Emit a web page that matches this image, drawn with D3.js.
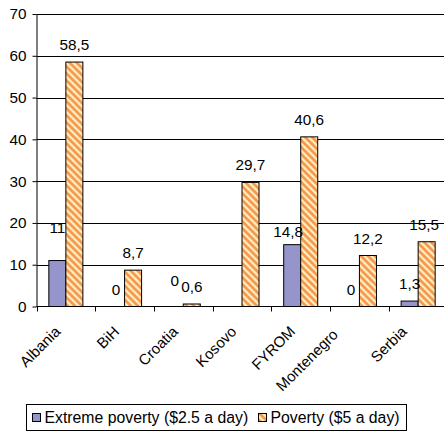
<!DOCTYPE html>
<html>
<head>
<meta charset="utf-8">
<script src="https://cdn.jsdelivr.net/npm/d3@7"></script>
<style>
  html, body { margin: 0; padding: 0; background: #fff; }
  svg { display: block; }
  svg text { font-family: "Liberation Sans", Arial, sans-serif; fill: #000; }
</style>
</head>
<body>
<svg id="chart" width="444" height="432"></svg>
<script>
// Poverty rates by country, two series
const categories = ["Albania", "BiH", "Croatia", "Kosovo", "FYROM", "Montenegro", "Serbia"];
const extremePoverty = [11, 0, 0, null, 14.8, 0, 1.3];
const poverty = [58.5, 8.7, 0.6, 29.7, 40.6, 12.2, 15.5];
const seriesNames = ["Extreme poverty ($2.5 a day)", "Poverty ($5 a day)"];
const yTicks = [0, 10, 20, 30, 40, 50, 60, 70];

const svg = d3.select("#chart");
const plot = { left: 36.5, right: 447.5, top: 14, bottom: 306.5 };
const fontSize = 15.3;

const x = d3.scaleBand().domain(categories).range([plot.left, plot.right]).paddingInner(0).paddingOuter(0);
const xs = d3.scaleBand().domain([0, 1]).range([0, x.bandwidth()]).paddingInner(0).paddingOuter(0.725);
const y = d3.scaleLinear().domain([0, 70]).range([plot.bottom, plot.top]);

const fmt = d3.formatLocale({ decimal: ",", thousands: ".", grouping: [3], currency: ["", ""] }).format("~g");

// Hatch fill for the second series
const defs = svg.append("defs");
const pat = defs.append("pattern")
  .attr("id", "hatch").attr("patternUnits", "userSpaceOnUse")
  .attr("width", 7).attr("height", 7);
pat.append("rect").attr("width", 7).attr("height", 7).attr("fill", "#ffefc0");
pat.append("path")
  .attr("d", "M-2,-2 L9,9 M-2,5 L2,9 M5,-2 L9,2")
  .attr("stroke", "#f59a50").attr("stroke-width", 2.8);

// Gridlines
svg.append("g").selectAll("line")
  .data(yTicks.filter(d => d > 0))
  .join("line")
  .attr("x1", plot.left).attr("x2", 444)
  .attr("y1", d => Math.round(y(d)) + 0.5).attr("y2", d => Math.round(y(d)) + 0.5)
  .attr("stroke", "#000").attr("stroke-width", 1);

// Y axis
const yAxis = svg.append("g")
  .attr("transform", `translate(${plot.left},0)`)
  .call(d3.axisLeft(y).tickValues(yTicks).tickSize(4).tickPadding(6).tickSizeOuter(0));
yAxis.attr("font-size", fontSize).attr("font-family", "Liberation Sans, Arial, sans-serif");
yAxis.select(".domain").attr("stroke", "#000");
yAxis.selectAll(".tick line").attr("stroke", "#000");
yAxis.selectAll(".tick text").attr("fill", "#000");

// Bars
const seriesData = [extremePoverty, poverty];
const fills = ["#9595cb", "url(#hatch)"];
const barsG = svg.append("g");
seriesData.forEach((vals, s) => {
  barsG.append("g").selectAll("rect")
    .data(categories.map((c, i) => ({ c, v: vals[i] })).filter(d => d.v !== null && d.v > 0))
    .join("rect")
    .attr("x", d => x(d.c) + xs(s))
    .attr("width", xs.bandwidth())
    .attr("y", d => y(d.v))
    .attr("height", d => y(0) - y(d.v))
    .attr("fill", fills[s])
    .attr("stroke", "#000").attr("stroke-width", 1);
});

// X axis line with category boundary ticks
svg.append("line")
  .attr("x1", plot.left).attr("x2", 444)
  .attr("y1", plot.bottom).attr("y2", plot.bottom)
  .attr("stroke", "#000");
svg.append("g").selectAll("line")
  .data(categories)
  .join("line")
  .attr("x1", d => Math.round(x(d)) + 0.5).attr("x2", d => Math.round(x(d)) + 0.5)
  .attr("y1", plot.bottom).attr("y2", plot.bottom + 5)
  .attr("stroke", "#000");

// Rotated category labels; the two rightmost are pulled back toward the left
const labelShift = { Montenegro: [-16, 3], Serbia: [-6, 0] };
svg.append("g").selectAll("text")
  .data(categories)
  .join("text")
  .attr("transform", d => {
    const [dx, dy] = labelShift[d] || [0, 0];
    return `translate(${x(d) + x.bandwidth() / 2 - 4.5 + dx},${plot.bottom + 26 + dy}) rotate(-45)`;
  })
  .attr("text-anchor", "end")
  .attr("font-size", 15)
  .text(d => d);

// Value labels; a few are nudged apart from their neighbours
const nudges = { "0-0": [0, -16], "0-4": [-4, 4], "0-2": [0, -9], "1-6": [-2.5, 0] };
const labelG = svg.append("g").attr("font-size", fontSize).attr("text-anchor", "middle");
seriesData.forEach((vals, s) => {
  labelG.append("g").selectAll("text")
    .data(categories.map((c, i) => ({ c, i, v: vals[i] })).filter(d => d.v !== null))
    .join("text")
    .attr("x", d => x(d.c) + xs(s) + xs.bandwidth() / 2 + (nudges[s + "-" + d.i] || [0, 0])[0])
    .attr("y", d => y(d.v) - 12 + (nudges[s + "-" + d.i] || [0, 0])[1])
    .text(d => fmt(d.v));
});

// Legend
const lg = svg.append("g");
lg.append("rect").attr("x", 26.5).attr("y", 404.5).attr("width", 380).attr("height", 26)
  .attr("fill", "#fff").attr("stroke", "#000");
const legendItems = [
  { name: seriesNames[0], fill: fills[0], x: 32.5 },
  { name: seriesNames[1], fill: fills[1], x: 258.5 }
];
legendItems.forEach(it => {
  lg.append("rect").attr("x", it.x).attr("y", 413.5).attr("width", 8).attr("height", 8)
    .attr("fill", it.fill).attr("stroke", "#000");
  lg.append("text").attr("x", it.x + 12).attr("y", 423).attr("font-size", 15.8).text(it.name);
});
</script>
</body>
</html>
